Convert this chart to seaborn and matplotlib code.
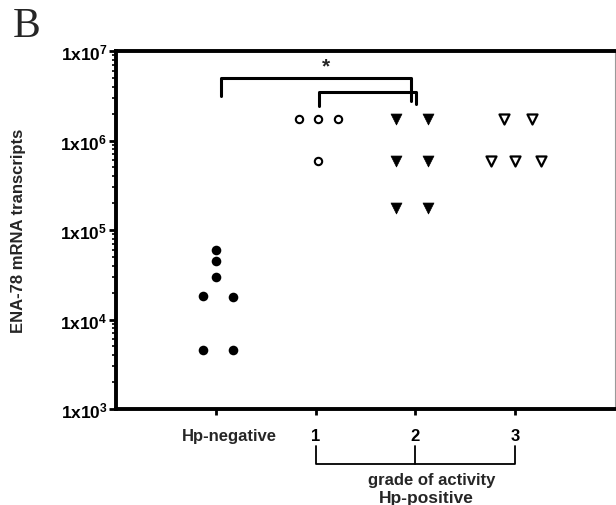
import matplotlib
matplotlib.use("Agg")
import matplotlib.pyplot as plt
import matplotlib.transforms as mtransforms
import seaborn as sns
import numpy as np

# group positions on the x axis
groups = ["Hp-negative", "1", "2", "3"]
group_pos = [0, 1, 2, 3]

# Hp-negative (filled circles)
neg_x = [0.0, 0.0, 0.0, -0.13, 0.17, -0.13, 0.17]
neg_y = [6.0e4, 4.5e4, 3.0e4, 1.85e4, 1.8e4, 4.6e3, 4.6e3]

# grade 1 (open circles)
g1_x = [0.83, 1.02, 1.22, 1.02]
g1_y = [1.76e6, 1.76e6, 1.76e6, 5.9e5]

# grade 2 (filled down triangles)
g2_x = [1.81, 2.13, 1.81, 2.13, 1.81, 2.13]
g2_y = [1.76e6, 1.76e6, 5.9e5, 5.9e5, 1.76e5, 1.76e5]

# grade 3 (open down triangles)
g3_x = [2.89, 3.17, 2.76, 3.00, 3.26]
g3_y = [1.76e6, 1.76e6, 5.9e5, 5.9e5, 5.9e5]

ytick_vals = [1e3, 1e4, 1e5, 1e6, 1e7]
ytick_labels = [r"$\mathbf{1x10^{3}}$", r"$\mathbf{1x10^{4}}$", r"$\mathbf{1x10^{5}}$",
                r"$\mathbf{1x10^{6}}$", r"$\mathbf{1x10^{7}}$"]

sns.set_style("ticks")
plt.rcParams["font.family"] = ["Liberation Sans", "DejaVu Sans"]
plt.rcParams["font.weight"] = "bold"
plt.rcParams["mathtext.fontset"] = "custom"
plt.rcParams["mathtext.bf"] = "Liberation Sans:bold"
plt.rcParams["mathtext.rm"] = "Liberation Sans:bold"

fig = plt.figure(figsize=(6.16, 5.06), dpi=100)
ax = fig.add_axes([116 / 616, 96 / 506, 499 / 616, 358 / 506])

sns.scatterplot(x=neg_x, y=neg_y, ax=ax, marker="o", s=48, color="black",
                edgecolor="black", linewidth=0)
sns.scatterplot(x=g1_x, y=g1_y, ax=ax, marker="o", s=28, facecolor="white",
                edgecolor="black", linewidth=1.5)
sns.scatterplot(x=g2_x, y=g2_y, ax=ax, marker="v", s=62, color="black",
                edgecolor="black", linewidth=0.5)
sns.scatterplot(x=g3_x, y=g3_y, ax=ax, marker="v", s=52, facecolor="white",
                edgecolor="black", linewidth=1.6)

ax.set_yscale("log")
ax.set_ylim(1e3, 1e7)
ax.set_xlim(-1, 4)
ax.set_yticks(ytick_vals)
ax.set_yticklabels(ytick_labels, fontsize=12.5)
ax.set_xticks(group_pos)
# Hp-negative label is drawn separately, a little right of its tick
ax.set_xticklabels([""] + groups[1:], fontsize=12, fontweight="bold")

for s in ["left", "bottom", "top"]:
    ax.spines[s].set_linewidth(2.8)
    ax.spines[s].set_color("black")
ax.spines["right"].set_linewidth(0.8)
ax.spines["right"].set_color("#9a9a9a")

ax.tick_params(axis="y", which="major", length=5, width=2, pad=1, colors="black")
ax.tick_params(axis="y", which="minor", length=3, width=1.2, colors="black")
ax.tick_params(axis="x", which="major", length=4, width=2, pad=10, colors="black")
ax.tick_params(axis="x", which="minor", length=0)
ax.tick_params(right=False, top=False)

tr = ax.get_xaxis_transform()
lbl_tr = tr + mtransforms.ScaledTranslation(14 / 100, -14 / 72, fig.dpi_scale_trans)
ax.text(group_pos[0], 0, groups[0], transform=lbl_tr, ha="center", va="top",
        fontsize=12, fontweight="bold")

ax.set_ylabel("ENA-78 mRNA transcripts", fontsize=12, fontweight="bold")
ax.yaxis.set_label_coords(-0.18, 0.5)
ax.set_xlabel("")

# significance brackets
ax.plot([0.05, 0.05, 1.96, 1.96], [3.14e6, 5.0e6, 5.0e6, 2.76e6], color="black", lw=2.2)
ax.plot([1.03, 1.03, 2.01, 2.01], [2.43e6, 3.48e6, 3.48e6, 2.56e6], color="black", lw=2.2)
ax.text(1.10, 6.9e6, "*", ha="center", va="center", fontsize=15, fontweight="bold")

# bracket under grade axis
ax.plot([1, 1, 3, 3], [-0.103, -0.154, -0.154, -0.103], color="black", lw=1.3,
        transform=tr, clip_on=False)
ax.plot([2, 2], [-0.103, -0.154], color="black", lw=1.3, transform=tr, clip_on=False)
ax.text(2.16, -0.196, "grade of activity", transform=tr, ha="center", va="center",
        fontsize=12, fontweight="bold")
ax.text(2.11, -0.226, "Hp-positive", transform=tr, ha="center", va="top",
        fontsize=12.5, fontweight="bold")

fig.text(13 / 616, 1 - 27 / 506, "B", family="Liberation Serif", fontsize=30,
         fontweight="normal", ha="left", va="center")

fig.savefig("out.png", dpi=100)
